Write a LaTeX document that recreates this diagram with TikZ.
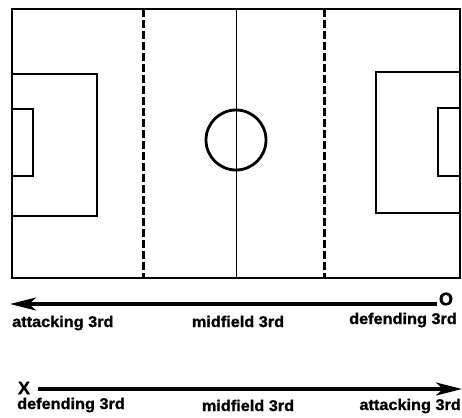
\documentclass[tikz,border=0pt]{standalone}
\usepackage{fontspec}
\setmainfont{Liberation Sans}
\newfontfamily\heavyfont{Liberation Sans Bold}[FakeBold=1.2]
\usetikzlibrary{arrows.meta}

\begin{document}
\begin{tikzpicture}[x=1pt,y=-1pt,
    pitchline/.style={line width=2.8pt},
    thirdline/.style={line width=3pt, dash pattern=on 8pt off 3pt},
    dirarrow/.style={line width=3.2pt, -{Stealth[length=26pt,width=13pt,inset=7pt]}},
    zone/.style={font=\fontsize{15.5}{16}\heavyfont, inner sep=0pt, xscale=1.05},
    team/.style={font=\fontsize{18}{18}\heavyfont, inner sep=0pt}]
        \useasboundingbox (0,0) rectangle (462,417);

        % Draw the pitch
        \draw[pitchline] (12,9) rectangle (460,278);
        \draw[line width=1pt] (236,9) -- (236,278);
        \draw[pitchline] (236,140) circle (30);

        % Penalty areas and goal areas
        \draw[pitchline] (12,74) -- (97,74) -- (97,216) -- (12,216);
        \draw[pitchline] (12,109) -- (33,109) -- (33,176) -- (12,176);
        \draw[pitchline] (460,72) -- (376,72) -- (376,213) -- (460,213);
        \draw[pitchline] (460,108) -- (438,108) -- (438,176) -- (460,176);

        % Dashed lines between the thirds
        \draw[thirdline] (143,9) -- (143,278);
        \draw[thirdline] (324,9) -- (324,278);

        % Team O attacks to the left
        \node[team] (o) at (446,299) {O};
        \coordinate (oend) at (10,304);
        \draw[dirarrow] (o.west |- oend) ++(-2,0) -- (oend);
        \node[zone, anchor=base west] (oatt) at (12,327) {attacking 3rd};
        \node[zone, anchor=base] (omid) at (238,327) {midfield 3rd};
        \node[zone, anchor=base east] (odef) at (457,324) {defending 3rd};

        % Team X attacks to the right
        \node[team] (x) at (24,388) {X};
        \coordinate (xend) at (462,389);
        \draw[dirarrow] (x.east |- xend) ++(8,0) -- (xend);
        \node[zone, anchor=base west] (xdef) at (17,409) {defending 3rd};
        \node[zone, anchor=base] (xmid) at (248,411) {midfield 3rd};
        \node[zone, anchor=base east] (xatt) at (461,410) {attacking 3rd};
    \end{tikzpicture}
\end{document}
